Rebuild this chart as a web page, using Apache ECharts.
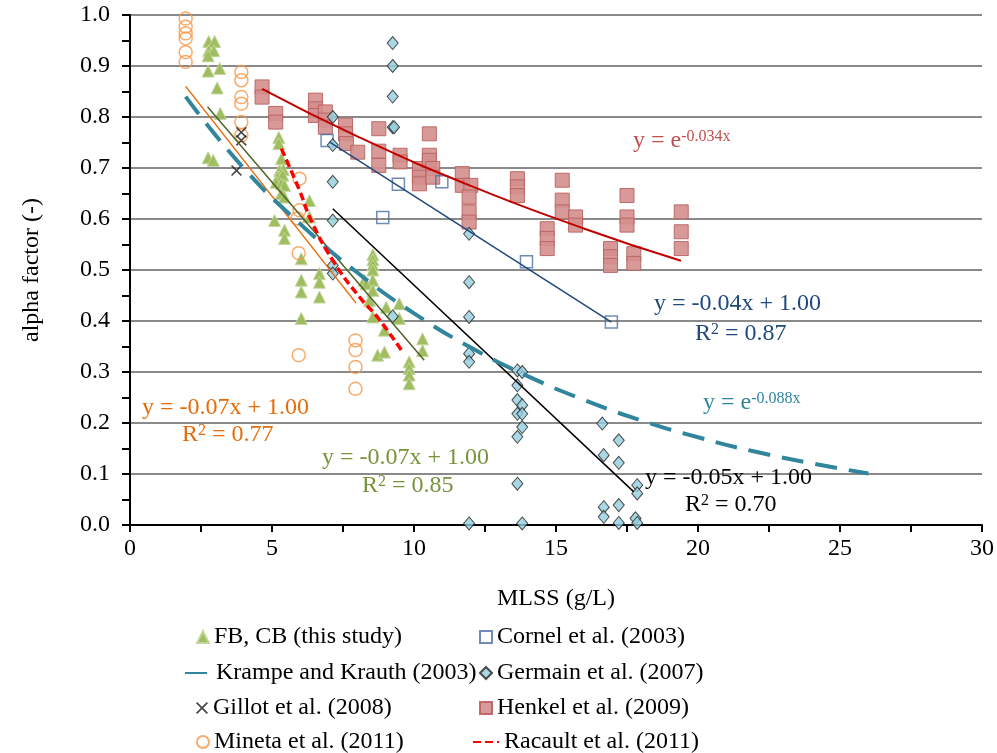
<!DOCTYPE html>
<html>
<head>
<meta charset="utf-8">
<script src="https://cdn.jsdelivr.net/npm/echarts@6/dist/echarts.min.js"></script>
<style>
html,body{margin:0;padding:0;background:#fff}
#main{width:997px;height:753px}
</style>
</head>
<body>
<div id="main"></div>
<script>
// data: [MLSS g/L, alpha]
var fbcb = [[2.77,0.948],[2.98,0.948],[2.77,0.93],[2.95,0.93],[2.75,0.92],[2.75,0.89],[3.16,0.895],[3.07,0.857],[3.18,0.807],[2.75,0.72],[2.93,0.715],
  [5.24,0.76],[5.24,0.748],[5.33,0.718],[5.27,0.695],[5.4,0.697],[5.21,0.682],[5.38,0.686],[5.15,0.672],[5.33,0.669],[5.44,0.666],[5.33,0.65],[5.44,0.643],
  [6.32,0.636],[6.32,0.604],[5.09,0.597],[5.44,0.578],[5.44,0.562],[6.03,0.522],[6.03,0.48],[6.03,0.457],[6.03,0.405],[6.67,0.493],[6.67,0.476],[6.67,0.447],
  [8.55,0.53],[8.55,0.52],[8.55,0.51],[8.55,0.5],[8.55,0.48],[8.25,0.48],[8.31,0.473],[8.55,0.46],[8.43,0.44],[8.55,0.408],[9.02,0.427],[9.48,0.434],[9.48,0.405],
  [8.96,0.382],[10.3,0.365],[10.3,0.342],[8.72,0.333],[8.96,0.339],[9.83,0.32],[9.83,0.307],[9.83,0.294],[9.83,0.277]];
var krampe = [[1.96,0.84],[4,0.70],[6,0.59],[8,0.495],[10,0.415],[12,0.348],[14,0.292],[16,0.245],[18,0.205],[20,0.172],[22,0.144],[24,0.121],[26,0.101]];
var gillot = [[3.92,0.77],[3.92,0.754],[3.75,0.695]];
var mineta = [[1.96,0.993],[1.96,0.977],[1.96,0.964],[1.96,0.954],[1.96,0.927],[1.96,0.908],[3.92,0.888],[3.92,0.872],[3.92,0.839],[3.92,0.826],[3.92,0.79],[3.92,0.764],
  [5.97,0.679],[5.97,0.617],[5.9,0.601],[5.94,0.533],[5.94,0.333],[7.94,0.362],[7.94,0.343],[7.94,0.31],[7.94,0.267]];
var cornel = [[6.94,0.754],[8.9,0.603],[9.45,0.668],[10.98,0.673],[13.96,0.516],[16.95,0.398]];
var germain = [[7.14,0.80],[7.14,0.745],[7.14,0.673],[7.14,0.597],[7.14,0.509],[7.14,0.493],[9.25,0.945],[9.25,0.90],[9.25,0.84],[9.25,0.78],[9.3,0.78],[9.25,0.409],
  [11.94,0.571],[11.94,0.476],[11.94,0.408],[11.94,0.336],[11.94,0.32],[11.94,0.003],[13.64,0.303],[13.81,0.30],[13.64,0.274],[13.64,0.245],[13.81,0.235],[13.64,0.218],
  [13.81,0.218],[13.81,0.192],[13.64,0.173],[13.64,0.081],[13.81,0.003],[16.63,0.199],[17.21,0.166],[16.68,0.137],[17.21,0.122],[17.86,0.078],[17.86,0.062],
  [16.68,0.035],[16.68,0.016],[17.21,0.039],[17.21,0.004],[17.8,0.013],[17.86,0.004]];
var henkel = [[4.65,0.859],[4.65,0.839],[5.13,0.807],[5.13,0.79],[6.53,0.833],[6.53,0.816],[6.53,0.803],[6.88,0.81],[6.88,0.794],[6.88,0.78],[7.59,0.784],[7.59,0.767],
  [7.62,0.748],[8.02,0.731],[8.76,0.777],[8.76,0.733],[8.76,0.705],[9.51,0.725],[9.51,0.712],[10.19,0.699],[10.19,0.682],[10.19,0.669],[10.54,0.767],[10.54,0.725],
  [10.54,0.715],[10.66,0.699],[10.66,0.682],[11.7,0.689],[11.7,0.666],[12.0,0.666],[11.94,0.643],[11.94,0.614],[11.94,0.594],[13.64,0.679],[13.64,0.663],[13.64,0.646],
  [14.69,0.581],[14.69,0.562],[14.69,0.542],[15.22,0.676],[15.22,0.637],[15.22,0.614],[15.69,0.604],[15.69,0.588],[16.92,0.542],[16.92,0.526],[16.92,0.509],
  [17.5,0.646],[17.5,0.604],[17.5,0.588],[17.74,0.532],[17.74,0.513],[19.41,0.614],[19.41,0.575],[19.41,0.542]];
var racault = [[5.33,0.738],[5.97,0.656],[6.38,0.597],[7.14,0.519],[8.08,0.447],[8.72,0.407],[9.6,0.339]];

// trend lines
var fitMineta = [[1.96,0.86],[7.96,0.435]];
var fitFbcb = [[2.73,0.82],[10.36,0.323]];
var fitHenkel = [[4.65,0.855],[8,0.762],[12,0.665],[16,0.581],[19.4,0.518]];
var fitCornel = [[7.02,0.751],[16.95,0.398]];
var fitGermain = [[7.14,0.62],[17.74,0.065]];

var legendLeft = ['FB, CB (this study)', 'Krampe and Krauth (2003)', 'Gillot et al. (2008)', 'Mineta et al. (2011)'];
var legendRight = ['Cornel et al. (2003)', 'Germain et al. (2007)', 'Henkel et al. (2009)', 'Racault et al. (2011)'];

var serif = '"Liberation Serif", "DejaVu Serif", serif';

function eq(left, top, text, color) {
	return {
		type: 'text', left: left, top: top, z: 100,
		style: {
			text: text, fill: color, font: '24px ' + serif,
			rich: { s: { fontSize: 16, fontFamily: serif, fill: color, verticalAlign: 'top', lineHeight: 12 } }
		}
	};
}

function fit(data, color, width) {
	return { type: 'line', data: data, symbol: 'none', smooth: true, silent: true, z: 3,
		lineStyle: { color: color, width: width } };
}

// one legend box per entry so the short symbols and the long dashes keep their own widths
var rowTops = [620, 656, 691, 725];
var legends = [];
function leg(name, left, top, w, gap, isLine) {
	var item = { name: name };
	if (isLine) item.itemStyle = { opacity: 0 };
	legends.push({ data: [item], left: left, top: top, itemWidth: w, itemHeight: 12, itemGap: 0, itemTextGap: gap,
		textStyle: { fontFamily: serif, fontSize: 24, color: '#000', lineHeight: 24 } });
}
legendLeft.forEach(function (n, i) {
	if (i == 1) leg(n, 179, rowTops[i], 26, 7, true);
	else leg(n, 191, rowTops[i], 12, 9);
});
legendRight.forEach(function (n, i) {
	if (i == 3) leg(n, 467, rowTops[i], 26, 5, true);
	else leg(n, 474, rowTops[i], 12, 12);
});

var myChart = echarts.init(document.getElementById('main'));
var option = {
	animation: false,
	backgroundColor: '#fff',
	grid: { left: 130, top: 15, width: 854, height: 510 },
	xAxis: {
		type: 'value', min: 0, max: 30, interval: 5,
		name: 'MLSS (g/L)', nameLocation: 'middle', nameGap: 62,
		nameTextStyle: { fontFamily: serif, fontSize: 24, color: '#000' },
		axisLine: { show: true, onZero: false, lineStyle: { color: '#000', width: 2 } },
		axisTick: { show: true, length: 7, lineStyle: { color: '#000', width: 2 } },
		minorTick: { show: true, splitNumber: 2, length: 7, lineStyle: { color: '#000', width: 2 } },
		axisLabel: { fontFamily: serif, fontSize: 24, color: '#000', margin: 12 },
		splitLine: { show: false }
	},
	yAxis: {
		type: 'value', min: 0, max: 1, interval: 0.1,
		name: 'alpha factor (-)', nameLocation: 'middle', nameGap: 86,
		nameTextStyle: { fontFamily: serif, fontSize: 24, color: '#000' },
		axisLine: { show: true, onZero: false, lineStyle: { color: '#000', width: 2 } },
		axisTick: { show: true, length: 8, lineStyle: { color: '#000', width: 2 } },
		minorTick: { show: true, splitNumber: 2, length: 8, lineStyle: { color: '#000', width: 2 } },
		axisLabel: { fontFamily: serif, fontSize: 24, color: '#000', margin: 20,
			formatter: function (v) { return v.toFixed(1); } },
		splitLine: { show: true, lineStyle: { color: '#8a8a8a', width: 2 } }
	},
	legend: legends,
	series: [
		{ name: 'FB, CB (this study)', type: 'scatter', data: fbcb, symbol: 'triangle', symbolSize: [12, 12],
			itemStyle: { color: '#9bbb59', borderColor: '#c3d69b', borderWidth: 1, opacity: 0.95 } },
		{ name: 'Mineta et al. (2011)', type: 'scatter', data: mineta, symbol: 'circle', symbolSize: 13,
			itemStyle: { color: 'rgba(255,255,255,0)', borderColor: '#f79646', borderWidth: 1.5 } },
		{ name: 'Gillot et al. (2008)', type: 'scatter', data: gillot, symbolSize: 11,
			symbol: 'path://M0,1 L1,0 L5,4 L9,0 L10,1 L6,5 L10,9 L9,10 L5,6 L1,10 L0,9 L4,5 Z',
			itemStyle: { color: '#1a1a1a' } },
		{ name: 'Henkel et al. (2009)', type: 'scatter', data: henkel, symbol: 'rect', symbolSize: 14,
			itemStyle: { color: '#d48f8d', borderColor: '#b9605d', borderWidth: 1, opacity: 0.9 } },
		{ name: 'Cornel et al. (2003)', type: 'scatter', data: cornel, symbol: 'rect', symbolSize: 12,
			itemStyle: { color: 'rgba(255,255,255,0)', borderColor: '#4a6fa5', borderWidth: 1.5 } },
		{ name: 'Germain et al. (2007)', type: 'scatter', data: germain, symbol: 'diamond', symbolSize: [11, 13],
			itemStyle: { color: '#93cddd', borderColor: '#222', borderWidth: 1 } },
		fit(fitMineta, '#e46c0a', 1.5),
		fit(fitFbcb, '#4f6228', 1.5),
		fit(fitHenkel, '#c00000', 2),
		fit(fitCornel, '#1f497d', 1.5),
		fit(fitGermain, '#000', 1.5),
		{ name: 'Krampe and Krauth (2003)', type: 'line', data: krampe, smooth: true, symbol: 'none', z: 4,
			itemStyle: { color: '#31859c' },
			lineStyle: { color: '#31859c', width: 4, type: [22, 12] } },
		{ name: 'Racault et al. (2011)', type: 'line', data: racault, smooth: true, symbol: 'none', z: 4,
			itemStyle: { color: '#ff0000' },
			lineStyle: { color: '#ff0000', width: 3.5, type: [8, 4] } }
	],
	graphic: [
		eq(633, 129, 'y = e{s|-0.034x}', '#c0504d'),
		eq(654, 292, 'y = -0.04x + 1.00', '#1f497d'),
		eq(695, 322, 'R{s|2} = 0.87', '#1f497d'),
		eq(703, 391, 'y = e{s|-0.088x}', '#31859c'),
		eq(142, 396, 'y = -0.07x + 1.00', '#e46c0a'),
		eq(182, 423, 'R{s|2} = 0.77', '#e46c0a'),
		eq(322, 446, 'y = -0.07x + 1.00', '#77933c'),
		eq(362, 474, 'R{s|2} = 0.85', '#77933c'),
		eq(645, 466, 'y = -0.05x + 1.00', '#000'),
		eq(685, 493, 'R{s|2} = 0.70', '#000')
	]
};
myChart.setOption(option);
</script>
</body>
</html>
